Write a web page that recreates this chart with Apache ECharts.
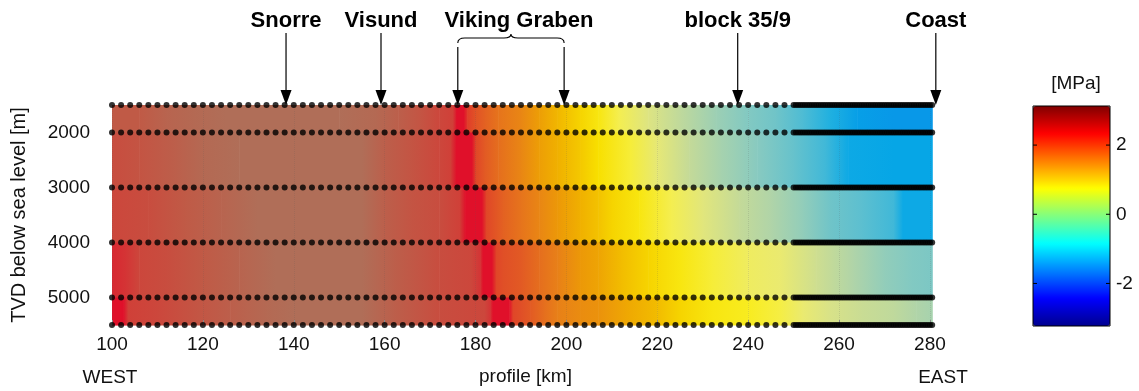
<!DOCTYPE html>
<html lang="en">
<head>
    <meta charset="UTF-8">
    <title>Pressure profile</title>
    <style>
        html, body { margin: 0; padding: 0; background: #fff; }
    </style>
</head>
<body>
<script src="https://cdn.jsdelivr.net/npm/echarts@6/dist/echarts.min.js"></script>

<div id="main" style="width: 1139px;height:391px;"></div>

<script type="text/javascript">
    // depth rows of the sample points [m] (also the band edges of the field)
    var depthRows = [1500, 2000, 3000, 4000, 5000, 5500];
    var depthLabels = [2000, 3000, 4000, 5000];
    var kmLabels = [100, 120, 140, 160, 180, 200, 220, 240, 260, 280];
    var cbLabels = [-2, 0, 2];

    // profile stations [km]
    var stationsKm = [100, 102, 104, 106, 108, 110, 112, 114, 116, 118, 120, 122, 124, 126, 128, 130,
        132, 134, 136, 138, 140, 142, 144, 146, 148, 150, 152, 154, 156, 158, 160, 162, 164, 166, 168,
        170, 172, 174, 176, 178, 180, 182, 184, 186, 188, 190, 192, 194, 196, 198, 200, 202, 204, 206,
        208, 210, 212, 214, 216, 218, 220, 222, 224, 226, 228, 230, 232, 234, 236, 238, 240, 242, 244,
        246, 248,
        250, 250.5, 251, 251.5, 252, 252.5, 253, 253.5, 254, 254.5, 255, 255.5, 256, 256.5, 257, 257.5,
        258, 258.5, 259, 259.5, 260, 260.5, 261, 261.5, 262, 262.5, 263, 263.5, 264, 264.5, 265, 265.5,
        266, 266.5, 267, 267.5, 268, 268.5, 269, 269.5, 270, 270.5, 271, 271.5, 272, 272.5, 273, 273.5,
        274, 274.5, 275, 275.5, 276, 276.5, 277, 277.5, 278, 278.5, 279, 279.5, 280, 280.5];

    // pressure [MPa] read along each depth band: [km, value]
    var band1500 = [[100, 3.0], [106, 3.0], [112, 3.1], [118, 3.15], [125, 3.2], [150, 3.2], [158, 3.15],
        [163, 3.05], [168, 2.95], [172, 2.85], [175, 2.8], [175.8, 2.6], [177.4, 2.6], [178.2, 2.45],
        [180, 2.35], [182, 2.25], [185, 2.1], [190, 1.95], [194, 1.75], [198, 1.55], [203, 1.3],
        [207, 1.1], [211.5, 0.8], [218, 0.45], [225, 0.15], [233, -0.2], [240, -0.45], [246, -0.6],
        [252, -0.9], [258, -1.2], [264, -1.5], [272, -1.6], [280.5, -1.6]];
    var band2000 = [[100, 2.9], [106, 2.95], [114, 3.05], [120, 3.15], [128, 3.2], [155, 3.2], [160, 3.05],
        [166, 2.95], [172, 2.85], [174.5, 2.8], [175.7, 2.6], [179.2, 2.6], [180, 2.42], [182, 2.3],
        [185, 2.15], [190, 1.95], [194, 1.75], [198, 1.6], [203, 1.4], [207, 1.2], [214, 0.9],
        [220, 0.55], [227, 0.2], [234, -0.1], [242, -0.4], [250, -0.7], [257, -1.0], [262, -1.35],
        [272, -1.4], [280.5, -1.4]];
    var band3000 = [[100, 2.85], [108, 2.9], [116, 3.0], [124, 3.1], [132, 3.2], [155, 3.2], [160, 3.05],
        [166, 2.95], [172, 2.9], [176.5, 2.8], [177.7, 2.6], [181.4, 2.6], [182.3, 2.42], [186, 2.25],
        [190, 2.1], [194, 1.95], [198, 1.8], [203, 1.6], [207, 1.45], [210, 1.3], [216, 1.1],
        [223, 0.8], [230, 0.5], [238, 0.2], [245, 0.0], [252, -0.3], [258, -0.6], [265, -0.8],
        [272, -1.0], [274, -1.35], [280.5, -1.35]];
    var band4000 = [[100, 2.7], [103, 2.75], [106, 2.85], [112, 2.9], [120, 3.0], [128, 3.1], [136, 3.2],
        [155, 3.2], [162, 3.05], [172, 2.9], [179, 2.85], [181, 2.75], [181.6, 2.6], [183.6, 2.6],
        [184.5, 2.42], [186, 2.38], [190, 2.3], [194, 2.15], [198, 2.0], [203, 1.8], [207, 1.7],
        [212, 1.5], [218, 1.3], [225, 1.1], [232, 0.9], [240, 0.7], [247, 0.6], [255, 0.3],
        [263, 0.0], [270, -0.3], [276, -0.45], [280.5, -0.5]];
    var band5000 = [[100, 2.6], [102.5, 2.6], [103.5, 2.8], [110, 2.85], [118, 2.95], [126, 3.05],
        [134, 3.15], [140, 3.2], [155, 3.2], [162, 3.05], [172, 2.9], [182, 2.85], [183.2, 2.75],
        [183.8, 2.6], [187.4, 2.6], [188.2, 2.42], [190, 2.38], [192, 2.3], [195, 2.15], [198, 2.0],
        [203, 1.9], [207, 1.85], [214, 1.65], [220, 1.5], [225, 1.3], [232, 1.1], [240, 1.0],
        [247, 0.85], [252, 0.6], [258, 0.4], [265, 0.25], [272, 0.15], [277, 0.0], [280.5, -0.1]];
    var bands = [band1500, band2000, band3000, band4000, band5000];

    // annotations
    var siteNames = ['Snorre', 'Visund', 'block 35/9', 'Coast'];
    var siteKm = [138.3, 159.2, 237.7, 281.3];
    var grabenName = 'Viking Graben';
    var grabenKm = [176.1, 199.5];

    // colour scale shown in the colour bar (jet)
    var cbMin = -3.23, cbMax = 3.13;
    var jet = ['#00008f', '#0000ff', '#0080ff', '#00ffff', '#80ff80', '#ffff00', '#ff8000', '#ff0000', '#800000'];
    // colours of the field as they appear in the figure, -3.2 .. 3.2 step 0.2
    var fieldRamp = ['#00008f', '#0000a8', '#0000c8', '#0000e8', '#0008ff', '#0030ff', '#0058ff', '#0080f8',
        '#0898e8', '#06a6e6', '#20b0e0', '#40b8d8', '#5cbfd0', '#70c4c8', '#88cac0', '#9ccfb4', '#b0d4a8',
        '#c4da98', '#d8e288', '#eaea70', '#f4ee50', '#f8ec20', '#f8e000', '#f4c800', '#f0b000', '#ec9808',
        '#e88018', '#e46820', '#e04c28', '#e0102a', '#d04038', '#c05a46', '#b06e58'];

    var FONT = '"Liberation Sans", Arial, Helvetica, sans-serif';

    var fieldData = [];
    bands.forEach(function (band, b) {
        band.forEach(function (p) { fieldData.push([p[0], b, p[1]]); });
    });
    var dotData = [];
    depthRows.forEach(function (d) {
        stationsKm.forEach(function (k) { dotData.push([k, d]); });
    });

    function plain(v) { return String(v); }

    var myChart = echarts.init(document.getElementById('main'));

    var option = {
        animation: false,
        grid: [
            {left: 112, top: 105, width: 827, height: 221},
            {left: 1033, top: 106, width: 77, height: 220, show: true, z: 10,
                borderColor: '#000', borderWidth: 1, backgroundColor: 'transparent'}
        ],
        xAxis: [
            {
                type: 'value', gridIndex: 0, min: 100, max: 282, interval: 20, z: 3,
                name: 'profile [km]', nameLocation: 'middle', nameGap: 42,
                nameTextStyle: {fontFamily: FONT, fontSize: 19, color: '#111'},
                axisLine: {show: false},
                axisTick: {show: true, inside: true, length: 5, lineStyle: {color: '#888'},
                    customValues: kmLabels},
                axisLabel: {fontFamily: FONT, fontSize: 19, color: '#111', margin: 10,
                    customValues: kmLabels, formatter: plain},
                splitLine: {show: true, lineStyle: {color: 'rgba(90,90,90,0.16)', type: 'dotted'}}
            },
            {type: 'value', gridIndex: 1, min: 0, max: 1, show: false}
        ],
        yAxis: [
            {
                type: 'value', gridIndex: 0, inverse: true, min: 1500, max: 5500, interval: 500,
                name: 'TVD below sea level [m]', nameLocation: 'middle', nameGap: 83,
                nameTextStyle: {fontFamily: FONT, fontSize: 20, color: '#111'},
                axisLine: {show: false},
                axisTick: {show: false},
                axisLabel: {fontFamily: FONT, fontSize: 19, color: '#111', margin: 22,
                    customValues: depthLabels, formatter: plain},
                splitLine: {show: false}
            },
            {
                type: 'value', gridIndex: 1, position: 'right', min: cbMin, max: cbMax, interval: 1, z: 12,
                axisLine: {show: false},
                axisTick: {show: false},
                axisLabel: {fontFamily: FONT, fontSize: 19, color: '#111', margin: 6,
                    customValues: cbLabels, formatter: plain},
                splitLine: {show: false}
            }
        ],
        visualMap: [
            {
                type: 'continuous', show: false, seriesIndex: 0, dimension: 2,
                min: -3.2, max: 3.2, inRange: {color: fieldRamp}
            },
            {
                type: 'continuous', show: true, seriesIndex: [], min: cbMin, max: cbMax,
                orient: 'vertical', left: 1033, top: 106, itemWidth: 77, itemHeight: 220,
                padding: 0, calculable: false, text: null, hoverLink: false, z: 4,
                inRange: {color: jet}
            }
        ],
        graphic: [
            {type: 'text', x: 1076, y: 84, style: {text: '[MPa]', font: '19px ' + FONT, fill: '#111',
                    textAlign: 'center', textVerticalAlign: 'middle'}},
            {type: 'text', x: 110, y: 378, style: {text: 'WEST', font: '19px ' + FONT, fill: '#111',
                    textAlign: 'center', textVerticalAlign: 'middle'}},
            {type: 'text', x: 943, y: 378, style: {text: 'EAST', font: '19px ' + FONT, fill: '#111',
                    textAlign: 'center', textVerticalAlign: 'middle'}}
        ],
        series: [
            {
                // pressure field, one gradient strip between neighbouring nodes of a band
                type: 'custom', xAxisIndex: 0, yAxisIndex: 0, z: 1, silent: true,
                data: fieldData,
                encode: {x: 0},
                renderItem: function (params, api) {
                    var i = params.dataIndexInside;
                    if (i + 1 >= params.dataInsideLength) return;
                    var b = api.value(1);
                    if (api.value(1, i + 1) !== b) return;
                    var p0 = api.coord([api.value(0), depthRows[b]]);
                    var p1 = api.coord([api.value(0, i + 1), depthRows[b + 1]]);
                    return {
                        type: 'rect',
                        shape: {x: p0[0], y: p0[1], width: p1[0] - p0[0] + 0.6, height: p1[1] - p0[1] + 0.6},
                        style: {
                            fill: {
                                type: 'linear', x: 0, y: 0, x2: 1, y2: 0,
                                colorStops: [{offset: 0, color: api.visual('color')},
                                    {offset: 1, color: api.visual('color', i + 1)}]
                            }
                        }
                    };
                }
            },
            {
                type: 'scatter', xAxisIndex: 0, yAxisIndex: 0, z: 4, silent: true,
                symbol: 'circle', symbolSize: 6,
                itemStyle: {color: '#000'},
                data: dotData
            },
            {
                // single sites with an arrow
                type: 'custom', xAxisIndex: 0, yAxisIndex: 0, z: 5, silent: true, clip: false,
                data: siteKm.map(function (k, i) { return [k, depthRows[0], i]; }),
                renderItem: function (params, api) {
                    var p = api.coord([api.value(0), api.value(1)]);
                    return {
                        type: 'group',
                        children: [
                            {type: 'line', shape: {x1: p[0], y1: p[1] - 72, x2: p[0], y2: p[1] - 14},
                                style: {stroke: '#000', lineWidth: 1.2}},
                            {type: 'polygon', shape: {points: [[p[0] - 5.5, p[1] - 15], [p[0] + 5.5, p[1] - 15], [p[0], p[1]]]},
                                style: {fill: '#000'}},
                            {type: 'text', x: p[0], y: p[1] - 84,
                                style: {text: siteNames[api.value(2)], font: 'bold 22px ' + FONT, fill: '#000',
                                    textAlign: 'center', textVerticalAlign: 'middle'}}
                        ]
                    };
                }
            },
            {
                // Viking Graben: two arrows joined by a brace
                type: 'custom', xAxisIndex: 0, yAxisIndex: 0, z: 5, silent: true, clip: false,
                data: grabenKm.map(function (k) { return [k, depthRows[0]]; }),
                renderItem: function (params, api) {
                    var p = api.coord([api.value(0), api.value(1)]);
                    var children = [
                        {type: 'line', shape: {x1: p[0], y1: p[1] - 58, x2: p[0], y2: p[1] - 14},
                            style: {stroke: '#000', lineWidth: 1.2}},
                        {type: 'polygon', shape: {points: [[p[0] - 5.5, p[1] - 15], [p[0] + 5.5, p[1] - 15], [p[0], p[1]]]},
                            style: {fill: '#000'}}
                    ];
                    if (params.dataIndexInside === 0) {
                        var q = api.coord([api.value(0, 1), api.value(1, 1)]);
                        var x0 = p[0], x1 = q[0], xm = (x0 + x1) / 2, yb = p[1] - 67, ye = p[1] - 62;
                        var d = 'M' + x0 + ',' + ye + ' Q' + x0 + ',' + yb + ' ' + (x0 + 7) + ',' + yb +
                            ' L' + (xm - 7) + ',' + yb + ' Q' + xm + ',' + yb + ' ' + xm + ',' + (yb - 4) +
                            ' Q' + xm + ',' + yb + ' ' + (xm + 7) + ',' + yb +
                            ' L' + (x1 - 7) + ',' + yb + ' Q' + x1 + ',' + yb + ' ' + x1 + ',' + ye;
                        children.push({type: 'path', shape: {pathData: d},
                            style: {stroke: '#000', lineWidth: 1.1, fill: null}});
                        children.push({type: 'text', x: xm + 8, y: p[1] - 84,
                            style: {text: grabenName, font: 'bold 22px ' + FONT, fill: '#000',
                                textAlign: 'center', textVerticalAlign: 'middle'}});
                    }
                    return {type: 'group', children: children};
                }
            },
            {
                // colour bar tick marks on both edges
                type: 'custom', xAxisIndex: 1, yAxisIndex: 1, z: 20, silent: true, clip: false,
                data: cbLabels.map(function (v) { return [0, v]; }),
                renderItem: function (params, api) {
                    var l = api.coord([0, api.value(1)]);
                    var r = api.coord([1, api.value(1)]);
                    return {
                        type: 'group',
                        children: [
                            {type: 'line', shape: {x1: l[0], y1: l[1], x2: l[0] + 4, y2: l[1]},
                                style: {stroke: '#000', lineWidth: 1}},
                            {type: 'line', shape: {x1: r[0] - 4, y1: r[1], x2: r[0], y2: r[1]},
                                style: {stroke: '#000', lineWidth: 1}}
                        ]
                    };
                }
            }
        ]
    };

    myChart.setOption(option);
</script>
</body>
</html>
